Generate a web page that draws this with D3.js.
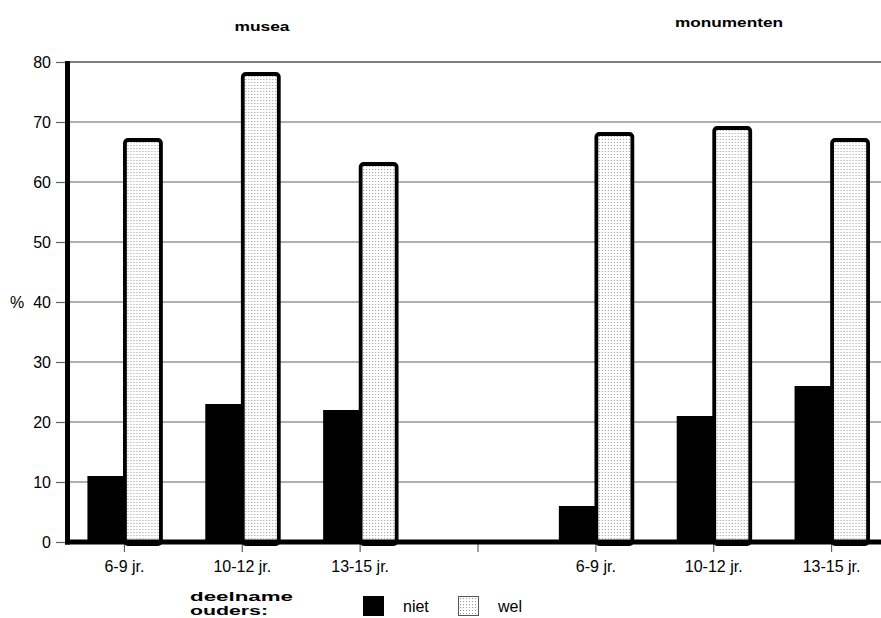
<!DOCTYPE html>
<html>
<head>
<meta charset="utf-8">
<script src="https://cdn.jsdelivr.net/npm/d3@7"></script>
<style>
  html, body { margin: 0; padding: 0; background: #fff; }
  svg { display: block; }
  text { font-family: "Liberation Sans", Arial, sans-serif; fill: #000; }
</style>
</head>
<body>
<svg id="chart" width="881" height="618"></svg>
<script>
// ---- data ----
const categories = ["6-9 jr.", "10-12 jr.", "13-15 jr.", "", "6-9 jr.", "10-12 jr.", "13-15 jr."];
const niet = [11, 23, 22, null, 6, 21, 26];
const wel  = [67, 78, 63, null, 68, 69, 67];
const seriesNames = ["niet", "wel"];
const yTicks = [0, 10, 20, 30, 40, 50, 60, 70, 80];
const panelTitles = ["musea", "monumenten"];
const legendTitle = ["deelname", "ouders:"];
const yLabel = "%";

const W = 881, H = 618;
const svg = d3.select("#chart");

const defs = svg.append("defs");
const pat = defs.append("pattern")
  .attr("id", "dots").attr("patternUnits", "userSpaceOnUse")
  .attr("width", 3).attr("height", 3);
pat.append("rect").attr("width", 3).attr("height", 3).attr("fill", "#fff");
pat.append("rect").attr("x", 1).attr("y", 1).attr("width", 1).attr("height", 1).attr("fill", "#9a9a9a");

const idx = categories.map((d, i) => i);
const x = d3.scaleBand().domain(idx).range([65.5, 890.5])
  .paddingInner(0.372).paddingOuter(0.186).align(0.5);
const xs = d3.scaleBand().domain(seriesNames).range([0, x.bandwidth()]).padding(0);
const y = d3.scaleLinear().domain([0, 80]).range([542, 62]);

// gridlines
svg.append("g").selectAll("line").data(yTicks.filter(d => d > 0)).join("line")
  .attr("x1", 67).attr("x2", W)
  .attr("y1", d => y(d)).attr("y2", d => y(d))
  .attr("stroke", d => d === 80 ? "#000" : "#606060").attr("stroke-width", 1.2);

// y axis
const yAxis = d3.axisLeft(y).tickValues(yTicks).tickSize(10).tickPadding(5);
const gy = svg.append("g").attr("transform", "translate(66,0)").call(yAxis);
gy.select(".domain").remove();
gy.selectAll(".tick line").attr("stroke", "#606060").attr("stroke-width", 1.2);
gy.selectAll(".tick text").attr("font-size", 16).attr("font-family", "Liberation Sans, Arial, sans-serif").attr("fill", "#000");

// bars
const groups = svg.append("g").selectAll("g").data(idx.filter(i => niet[i] != null)).join("g")
  .attr("transform", i => `translate(${x(i)},0)`);
groups.append("rect")
  .attr("x", xs("niet")).attr("width", xs.bandwidth())
  .attr("y", i => y(niet[i])).attr("height", i => y(0) - y(niet[i]))
  .attr("fill", "#000");
groups.append("rect")
  .attr("x", xs("wel") + 0.5).attr("width", xs.bandwidth() - 1)
  .attr("y", i => y(wel[i])).attr("height", i => y(0) - y(wel[i]) + 2)
  .attr("rx", 3).attr("ry", 3)
  .attr("fill", "url(#dots)").attr("stroke", "#000").attr("stroke-width", 3.8);

// x axis
const xAxis = d3.axisBottom(x).tickFormat(i => categories[i]).tickSize(8).tickPadding(9);
const gx = svg.append("g").attr("transform", "translate(0,544)").call(xAxis);
gx.select(".domain").remove();
gx.selectAll(".tick line").attr("stroke", "#606060").attr("stroke-width", 1.2);
gx.selectAll(".tick text").attr("font-size", 16).attr("font-family", "Liberation Sans, Arial, sans-serif").attr("fill", "#000");

// axis lines
svg.append("line").attr("x1", 67.5).attr("x2", 67.5).attr("y1", y(80) - 1).attr("y2", 544.5)
  .attr("stroke", "#000").attr("stroke-width", 5);
svg.append("line").attr("x1", 65).attr("x2", W).attr("y1", 542).attr("y2", 542)
  .attr("stroke", "#000").attr("stroke-width", 5);

// y label
svg.append("text").attr("x", 17).attr("y", y(40) + 6).attr("text-anchor", "middle")
  .attr("font-size", 16).text(yLabel);

// panel titles
const titlePos = [{cx: 262, y: 31, w: 55}, {cx: 729, y: 27, w: 108}];
svg.append("g").selectAll("text").data(panelTitles).join("text")
  .attr("x", (d, i) => titlePos[i].cx - titlePos[i].w / 2)
  .attr("y", (d, i) => titlePos[i].y)
  .attr("font-size", 12).attr("font-weight", "bold")
  .attr("textLength", (d, i) => titlePos[i].w).attr("lengthAdjust", "spacingAndGlyphs")
  .text(d => d);

// legend
const lt = [{y: 601, w: 103}, {y: 615, w: 78}];
svg.append("g").selectAll("text").data(legendTitle).join("text")
  .attr("x", 190).attr("y", (d, i) => lt[i].y)
  .attr("font-size", 12).attr("font-weight", "bold")
  .attr("textLength", (d, i) => lt[i].w).attr("lengthAdjust", "spacingAndGlyphs")
  .text(d => d);

const legItems = [{name: "niet", x: 363, fill: "#000"}, {name: "wel", x: 458, fill: "url(#dots)"}];
const lg = svg.append("g").selectAll("g").data(legItems).join("g");
lg.append("rect").attr("x", d => d.x + 0.5).attr("y", 596.5).attr("width", 20).attr("height", 19)
  .attr("fill", d => d.fill).attr("stroke", d => d.name === "niet" ? "#000" : "#555").attr("stroke-width", 1);
lg.append("text").attr("x", d => d.x + 40).attr("y", 612).attr("font-size", 16).text(d => d.name);
</script>
</body>
</html>
